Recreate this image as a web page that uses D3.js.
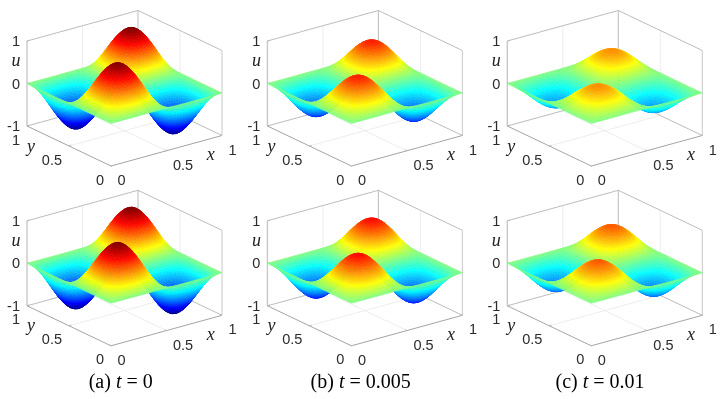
<!DOCTYPE html>
<html>
<head>
<meta charset="utf-8">
<script src="https://cdn.jsdelivr.net/npm/d3@7"></script>
<style>
  html, body { margin: 0; padding: 0; background: #fff; }
  svg { display: block; filter: blur(0.35px); }
</style>
</head>
<body>
<svg id="chart" width="722" height="399"></svg>
<script>
// peak height of each panel
const peaksTop = [1, 0.7, 0.48];
const peaksBottom = [1, 0.74, 0.58];

const captionTags = ["(a) ", "(b) ", "(c) "];
const captionTimes = ["0", "0.005", "0.01"];

const xTicks = [0, 0.5, 1];
const yTicks = [0, 0.5, 1];
const zTicks = [-1, 0, 1];

// u at t = 0 for the corner 0 <= x, y <= 0.25, step 0.025
// the other humps and dips in the picture are mirror copies of this one
const humpT0 = [
  [0,0,0,0,0,0,0,0,0,0,0],
  [0,.024,.048,.071,.092,.110,.126,.139,.148,.154,.156],
  [0,.048,.095,.140,.182,.218,.250,.275,.294,.305,.309],
  [0,.071,.140,.206,.267,.321,.367,.405,.432,.449,.454],
  [0,.092,.182,.267,.345,.416,.476,.524,.559,.581,.588],
  [0,.110,.218,.321,.416,.500,.572,.630,.672,.698,.707],
  [0,.126,.250,.367,.476,.572,.655,.721,.769,.799,.809],
  [0,.139,.275,.405,.524,.630,.721,.794,.847,.880,.891],
  [0,.148,.294,.432,.559,.672,.769,.847,.905,.939,.951],
  [0,.154,.305,.449,.581,.698,.799,.880,.939,.976,.988],
  [0,.156,.309,.454,.588,.707,.809,.891,.951,.988,1]
];

const n = 40; // grid cells along each side

// unfold the corner table over the whole square
function fold(k) {
  if (k <= 10) return [k, 1];
  if (k <= 20) return [20 - k, 1];
  if (k <= 30) return [k - 20, -1];
  return [40 - k, -1];
}
function surfaceAt(i, j) {
  const [a, sa] = fold(i);
  const [b, sb] = fold(j);
  return humpT0[b][a] * sa * sb;
}

const svg = d3.select("#chart");
const defs = svg.append("defs");

// the 3d view: how data x, y, u move a point on the screen
const xToLeft = d3.scaleLinear().domain([0, 1]).range([0, 111]);
const xToTop = d3.scaleLinear().domain([0, 1]).range([0, -30.5]);
const yToLeft = d3.scaleLinear().domain([0, 1]).range([0, -84]);
const yToTop = d3.scaleLinear().domain([0, 1]).range([0, -40]);
const uToTop = d3.scaleLinear().domain([-1, 1]).range([0, -85]);

// jet, same limits in every panel
const jetBreaks = [-1, -0.75, -0.25, 0.25, 0.75, 1];
const jet = d3.scaleLinear()
  .domain(jetBreaks)
  .range(["#000080", "#0000ff", "#00ffff", "#ffff00", "#ff0000", "#800000"])
  .clamp(true);

const frontX = 111;
const frontY = 166;

function project(x, y, u) {
  return [
    frontX + xToLeft(x) + yToLeft(y),
    frontY + xToTop(x) + yToTop(y) + uToTop(u)
  ];
}

const lineFn = d3.line();

function drawLine(g, points, color, width) {
  g.append("path")
    .attr("d", lineFn(points.map(p => project(p[0], p[1], p[2]))))
    .attr("fill", "none")
    .attr("stroke", color)
    .attr("stroke-width", width);
}

function drawBox(g) {
  const grid = "#e9e9e9";
  const box = "#b4b4b4";

  // walls and floor grid
  drawLine(g, [[0.5, 1, -1], [0.5, 1, 1]], grid, 0.8);
  drawLine(g, [[1, 0.5, -1], [1, 0.5, 1]], grid, 0.8);
  drawLine(g, [[0, 1, 0], [1, 1, 0], [1, 0, 0]], grid, 0.8);
  drawLine(g, [[0.5, 0, -1], [0.5, 1, -1]], grid, 0.8);
  drawLine(g, [[0, 0.5, -1], [1, 0.5, -1]], grid, 0.8);

  // box edges
  drawLine(g, [[0, 1, 1], [1, 1, 1], [1, 0, 1]], box, 0.9);
  drawLine(g, [[0, 1, -1], [1, 1, -1], [1, 0, -1]], box, 0.9);
  drawLine(g, [[1, 1, -1], [1, 1, 1]], box, 0.9);
  drawLine(g, [[1, 0, -1], [1, 0, 1]], "#c4c4c4", 0.9);
  drawLine(g, [[0, 1, -1], [0, 0, -1], [1, 0, -1]], "#a4a4a4", 1);
  drawLine(g, [[0, 1, -1], [0, 1, 1]], "#c8c8c8", 1.4);

  // tiny ticks
  xTicks.forEach(t => drawLine(g, [[t, 0, -1], [t, 0.02, -1]], box, 0.9));
  yTicks.forEach(t => drawLine(g, [[0, t, -1], [0.02, t, -1]], box, 0.9));
  zTicks.forEach(t => drawLine(g, [[0, 1, t], [0.02, 1, t]], box, 0.9));
}

let gradId = 0;

// fill for one triangle: u is linear across it, so a linear gradient is exact
function triangleFill(pts, us) {
  const [p0, p1, p2] = pts;
  const [u0, u1, u2] = us;
  const det = (p1[0] - p0[0]) * (p2[1] - p0[1]) - (p2[0] - p0[0]) * (p1[1] - p0[1]);
  const uMin = d3.min(us), uMax = d3.max(us);
  if (Math.abs(det) < 1e-6 || uMax - uMin < 1e-6) return jet((uMin + uMax) / 2);

  const a = ((u1 - u0) * (p2[1] - p0[1]) - (u2 - u0) * (p1[1] - p0[1])) / det;
  const b = ((p1[0] - p0[0]) * (u2 - u0) - (p2[0] - p0[0]) * (u1 - u0)) / det;
  const len2 = a * a + b * b;

  const id = "g" + gradId++;
  const grad = defs.append("linearGradient")
    .attr("id", id)
    .attr("gradientUnits", "userSpaceOnUse")
    .attr("x1", p0[0] + a / len2 * (uMin - u0))
    .attr("y1", p0[1] + b / len2 * (uMin - u0))
    .attr("x2", p0[0] + a / len2 * (uMax - u0))
    .attr("y2", p0[1] + b / len2 * (uMax - u0));

  const stops = [uMin, ...jetBreaks.filter(v => v > uMin && v < uMax), uMax];
  stops.forEach(v => {
    grad.append("stop")
      .attr("offset", (v - uMin) / (uMax - uMin))
      .attr("stop-color", jet(v));
  });
  return `url(#${id})`;
}

function drawSurface(g, peak) {
  const tris = [];
  const vertex = (i, j) => {
    const u = surfaceAt(i, j) * peak;
    return { p: project(i / n, j / n, u), u: u };
  };

  // back to front, so nearer pieces cover farther ones
  for (let j = n - 1; j >= 0; j--) {
    for (let i = n - 1; i >= 0; i--) {
      const a = vertex(i, j), b = vertex(i + 1, j);
      const c = vertex(i + 1, j + 1), d = vertex(i, j + 1);
      tris.push([b, c, d], [a, b, d]);
    }
  }

  g.append("g").selectAll("path")
    .data(tris)
    .join("path")
    .attr("d", t => lineFn(t.map(v => v.p)) + "Z")
    .each(function(t) {
      const fill = triangleFill(t.map(v => v.p), t.map(v => v.u));
      d3.select(this).attr("fill", fill).attr("stroke", fill);
    })
    .attr("stroke-width", 0.4)
    .attr("stroke-linejoin", "round");
}

function drawLabels(g) {
  const tickText = (x, y, anchor, txt) => g.append("text")
    .attr("x", x).attr("y", y)
    .attr("text-anchor", anchor)
    .attr("dy", "0.35em")
    .attr("font-family", "'Liberation Sans', sans-serif")
    .attr("font-size", 14.5)
    .attr("fill", "#2b2b2b")
    .text(txt);

  const mathText = (x, y, txt) => g.append("text")
    .attr("x", x).attr("y", y)
    .attr("text-anchor", "middle")
    .attr("dy", "0.25em")
    .attr("font-family", "'Liberation Serif', serif")
    .attr("font-style", "italic")
    .attr("font-size", 18)
    .attr("fill", "#222")
    .text(txt);

  zTicks.forEach(t => {
    const p = project(0, 1, t);
    tickText(p[0] - 7, p[1], "end", String(t));
  });
  yTicks.forEach(t => {
    const p = project(0, t, -1);
    tickText(p[0] - 7, p[1] + 13.5, "end", t);
  });
  xTicks.forEach(t => {
    const p = project(t, 0, -1);
    tickText(p[0] + 6.5, p[1] + 14, "start", t);
  });

  mathText(16, 61.7, "u");
  mathText(31, 147, "y");
  mathText(210.7, 155.7, "x");
}

const panelLeft = [0, 240.4, 480.3];
const rowTop = [0, 179.8];

[peaksTop, peaksBottom].forEach((peaks, r) => {
  peaks.forEach((peak, c) => {
    const g = svg.append("g")
      .attr("transform", `translate(${panelLeft[c]},${rowTop[r]})`);
    drawBox(g);
    drawSurface(g, peak);
    drawLabels(g);
  });
});

// captions under the bottom row
const captionCenter = [120.7, 360.7, 600];
captionTags.forEach((tag, c) => {
  const t = svg.append("text")
    .attr("x", captionCenter[c])
    .attr("y", 388)
    .attr("text-anchor", "middle")
    .attr("font-family", "'Liberation Serif', serif")
    .attr("font-size", 20)
    .attr("fill", "#000");
  t.append("tspan").text(tag);
  t.append("tspan").attr("font-style", "italic").text("t");
  t.append("tspan").text(" = " + captionTimes[c]);
});
</script>
</body>
</html>
